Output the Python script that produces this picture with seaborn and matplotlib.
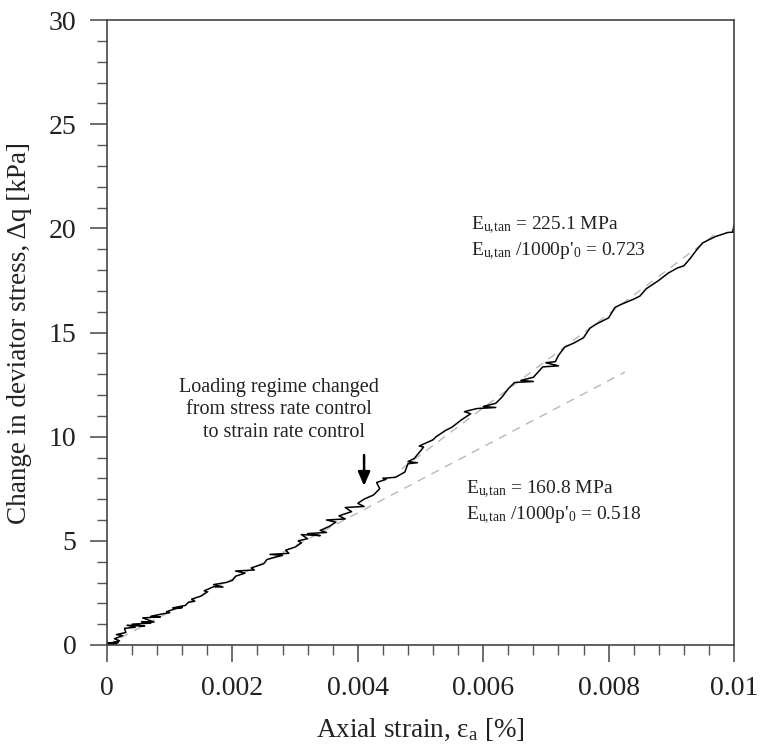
import numpy as np
import pandas as pd
import matplotlib
matplotlib.use("Agg")
import matplotlib.pyplot as plt
from matplotlib.ticker import MultipleLocator, FixedLocator
import seaborn as sns

# ---- data ----
strain = [0, 0.00015, 0.0, 0.00018, 0.00005, 0.0002, 0.00012, 0.00025, 0.00015, 0.0003,
          0.00028, 0.00045, 0.00032, 0.0006, 0.0004, 0.0007, 0.00055, 0.00075, 0.00057, 0.00085,
          0.0007, 0.0009, 0.001, 0.00095, 0.0011, 0.0012, 0.00105, 0.00125, 0.0013, 0.0014,
          0.00135, 0.0015, 0.0016, 0.00155, 0.0017, 0.00185, 0.0017, 0.0019, 0.002, 0.00205,
          0.0021, 0.0022, 0.00205, 0.00235, 0.0023, 0.0024, 0.0025, 0.00255, 0.0026, 0.0028,
          0.0026, 0.0029, 0.00285, 0.003, 0.0031, 0.00305, 0.0032, 0.0031, 0.0034, 0.0032,
          0.0035, 0.0034, 0.00355, 0.00365, 0.0035, 0.0038, 0.0037, 0.0039, 0.0038, 0.0041,
          0.004, 0.0041, 0.00425, 0.00435, 0.0043, 0.00445, 0.0044, 0.0046, 0.00475, 0.0048,
          0.00495, 0.0048, 0.0049, 0.00505, 0.00498, 0.0052, 0.00525, 0.0054, 0.0055, 0.00565,
          0.0058, 0.0057, 0.0059, 0.0062, 0.006, 0.0062, 0.0063, 0.0064, 0.0065, 0.0068,
          0.0066, 0.0068, 0.00695, 0.0072, 0.0070, 0.00715, 0.0072, 0.0073, 0.00745, 0.0076,
          0.0077, 0.0078, 0.008, 0.0081, 0.0082, 0.0084, 0.0085, 0.0086, 0.0088, 0.00895,
          0.0091, 0.0092, 0.0093, 0.0094, 0.0095, 0.0097, 0.0099, 0.01, 0.01, 0.00998]
stress = [0, 0.05, 0.1, 0.12, 0.08, 0.2, 0.3, 0.45, 0.5, 0.6,
          0.8, 0.85, 0.95, 0.9, 1.0, 1.05, 1.12, 1.1, 1.3, 1.35,
          1.38, 1.5, 1.55, 1.6, 1.75, 1.8, 1.78, 1.9, 2.05, 2.1,
          2.2, 2.35, 2.55, 2.6, 2.8, 2.78, 2.9, 3.0, 3.1, 3.3,
          3.35, 3.45, 3.55, 3.6, 3.7, 3.8, 3.9, 4.1, 4.15, 4.3,
          4.35, 4.4, 4.55, 4.7, 4.9, 5.0, 5.1, 5.3, 5.25, 5.35,
          5.4, 5.5, 5.7, 5.9, 6.0, 6.05, 6.2, 6.4, 6.6, 6.65,
          6.8, 7.0, 7.2, 7.5, 7.8, 7.95, 8.0, 8.05, 8.3, 8.7,
          8.75, 8.8, 8.95, 9.5, 9.55, 9.85, 10.0, 10.3, 10.45, 10.8,
          11.1, 11.2, 11.35, 11.4, 11.45, 11.6, 11.9, 12.3, 12.6, 12.65,
          12.7, 12.85, 13.35, 13.4, 13.55, 13.6, 13.9, 14.3, 14.5, 14.75,
          15.2, 15.4, 15.7, 16.2, 16.35, 16.6, 16.75, 17.1, 17.5, 17.85,
          18.1, 18.2, 18.55, 18.95, 19.3, 19.6, 19.8, 19.82, 20.15, 19.85]

# tangent-modulus reference lines (endpoints)
fit1_strain = [0.0, 0.00826]
fit1_stress = [0.0, 13.1]
fit2_strain = [0.0047, 0.0097]
fit2_stress = [8.45, 19.72]

x_ticks = [0, 0.002, 0.004, 0.006, 0.008, 0.01]
x_ticklabels = ["0", "0.002", "0.004", "0.006", "0.008", "0.01"]
y_ticks = [0, 5, 10, 15, 20, 25, 30]

sns.set_theme(style="ticks")
plt.rcParams['font.family'] = ['Liberation Serif', 'DejaVu Serif']
plt.rcParams['mathtext.fontset'] = 'custom'
plt.rcParams['mathtext.rm'] = 'Liberation Serif'
plt.rcParams['mathtext.it'] = 'Liberation Serif:italic'

fig = plt.figure(figsize=(7.6, 7.53), dpi=100)
ax = fig.add_axes([107/760, 108/753, 627/760, 625/753])

df = pd.DataFrame({"strain": strain, "stress": stress})
f1 = pd.DataFrame({"strain": fit1_strain, "stress": fit1_stress})
f2 = pd.DataFrame({"strain": fit2_strain, "stress": fit2_stress})

sns.lineplot(data=f1, x="strain", y="stress", ax=ax, color="#b8b8b8", lw=1.0,
             linestyle=(0, (6, 5)), sort=False, estimator=None)
sns.lineplot(data=f2, x="strain", y="stress", ax=ax, color="#b8b8b8", lw=1.0,
             linestyle=(0, (6, 5)), sort=False, estimator=None)
sns.lineplot(data=df, x="strain", y="stress", ax=ax, color="black", lw=1.1,
             sort=False, estimator=None)

ax.set_xlim(0, 0.01)
ax.set_ylim(0, 30)
ax.xaxis.set_major_locator(FixedLocator(x_ticks))
ax.set_xticklabels(x_ticklabels)
ax.xaxis.set_minor_locator(MultipleLocator(0.0004))
ax.yaxis.set_major_locator(FixedLocator(y_ticks))
ax.yaxis.set_minor_locator(MultipleLocator(1))

spine_c = "#444444"
for s in ax.spines.values():
    s.set_color(spine_c)
    s.set_linewidth(1.2)
ax.tick_params(which="major", direction="out", length=12, width=1.2, color="#555555",
               labelsize=20, labelcolor="#222222")
ax.tick_params(which="minor", direction="out", length=7, width=1.0, color="#555555")
ax.tick_params(axis="y", which="major", pad=10)
ax.tick_params(axis="x", which="major", pad=10)

ax.set_xlabel(r"Axial strain, ε$_\mathregular{a}$ [%]", fontsize=19.5, color="#222222", labelpad=12)
ax.set_ylabel("Change in deviator stress, Δq [kPa]", fontsize=19.5, color="#222222", labelpad=12)

ax.text(0.00274, 11.3, "Loading regime changed\nfrom stress rate control\n  to strain rate control",
        ha="center", va="center", fontsize=14.5, color="#222222", linespacing=1.25)
ax.annotate("", xy=(0.0041, 7.5), xytext=(0.0041, 9.25),
            arrowprops=dict(arrowstyle="-|>,head_length=0.7,head_width=0.3", color="black", lw=1.8))

sub = r"$_\mathregular{u{,}tan}$"
ax.text(0.0058, 20.15, "E" + sub + " = 225.1 MPa", fontsize=14, color="#222222", va="center")
ax.text(0.0058, 18.9, "E" + sub + " /1000p'" + r"$_\mathregular{0}$" + " = 0.723", fontsize=14, color="#222222", va="center")
ax.text(0.00573, 7.45, "E" + sub + " = 160.8 MPa", fontsize=14, color="#222222", va="center")
ax.text(0.00573, 6.2, "E" + sub + " /1000p'" + r"$_\mathregular{0}$" + " = 0.518", fontsize=14, color="#222222", va="center")

fig.savefig("out.png", dpi=100)
